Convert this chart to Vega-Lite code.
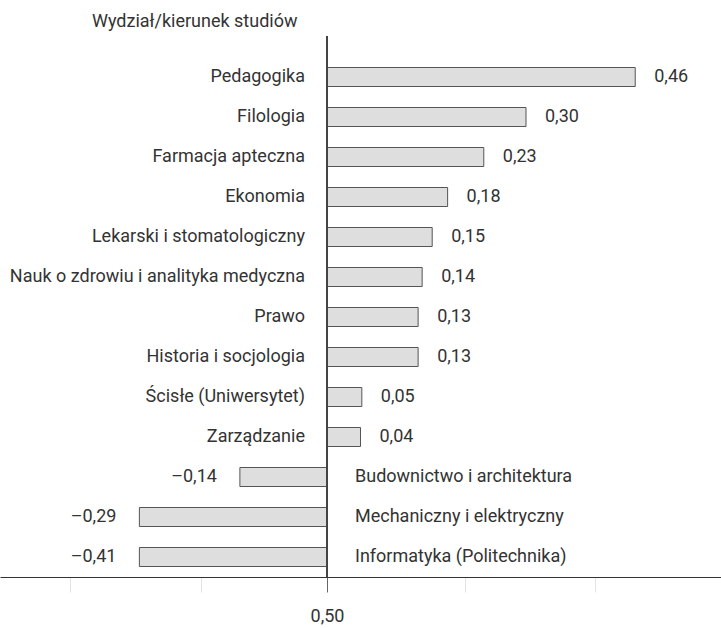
{
  "$schema": "https://vega.github.io/schema/vega-lite/v6.json",
  "width": 721,
  "height": 541,
  "autosize": {"type": "none"},
  "padding": {"left": 0, "right": 0, "top": 36, "bottom": 51},
  "background": "white",
  "config": {
    "view": {"stroke": null},
    "font": "Roboto",
    "text": {"font": "Roboto", "fontSize": 18, "color": "#333"}
  },
  "title": {
    "text": "Wydział/kierunek studiów",
    "anchor": "start",
    "frame": "group",
    "dx": 92,
    "offset": -9,
    "baseline": "alphabetic",
    "font": "Roboto",
    "fontSize": 18,
    "fontWeight": "normal",
    "color": "#333"
  },
  "data": {
    "values": [
      {"kierunek": "Pedagogika", "value": 0.46, "bar": 0.46, "label": "0,46"},
      {"kierunek": "Filologia", "value": 0.30, "bar": 0.297, "label": "0,30"},
      {"kierunek": "Farmacja apteczna", "value": 0.23, "bar": 0.234, "label": "0,23"},
      {"kierunek": "Ekonomia", "value": 0.18, "bar": 0.18, "label": "0,18"},
      {"kierunek": "Lekarski i stomatologiczny", "value": 0.15, "bar": 0.157, "label": "0,15"},
      {"kierunek": "Nauk o zdrowiu i analityka medyczna", "value": 0.14, "bar": 0.142, "label": "0,14"},
      {"kierunek": "Prawo", "value": 0.13, "bar": 0.136, "label": "0,13"},
      {"kierunek": "Historia i socjologia", "value": 0.13, "bar": 0.136, "label": "0,13"},
      {"kierunek": "Ścisłe (Uniwersytet)", "value": 0.05, "bar": 0.052, "label": "0,05"},
      {"kierunek": "Zarządzanie", "value": 0.04, "bar": 0.05, "label": "0,04"},
      {"kierunek": "Budownictwo i architektura", "value": -0.14, "bar": -0.13, "label": "–0,14"},
      {"kierunek": "Mechaniczny i elektryczny", "value": -0.29, "bar": -0.28, "label": "–0,29"},
      {"kierunek": "Informatyka (Politechnika)", "value": -0.41, "bar": -0.28, "label": "–0,41"}
    ]
  },
  "encoding": {
    "y": {
      "field": "kierunek",
      "type": "nominal",
      "sort": null,
      "axis": null,
      "scale": {"range": [21, 541], "paddingInner": 0.525, "paddingOuter": 0.2625}
    }
  },
  "layer": [
    {
      "mark": {"type": "bar", "fill": "#dedede", "stroke": "#555", "strokeWidth": 1},
      "encoding": {
        "x": {
          "field": "bar",
          "type": "quantitative",
          "scale": {"domain": [-0.488, 0.588], "nice": false, "zero": false},
          "axis": {
            "title": null,
            "values": [-0.384, -0.188, 0, 0.206, 0.4],
            "grid": false,
            "domainColor": "#333",
            "domainWidth": 1,
            "tickSize": 15,
            "tickColor": {"condition": {"test": "datum.value === 0", "value": "#666"}, "value": "#e4e4e4"},
            "labelExpr": "datum.value === 0 ? '0,50' : ''",
            "labelFont": "Roboto",
            "labelFontSize": 18,
            "labelColor": "#333",
            "labelPadding": 15
          }
        }
      }
    },
    {
      "mark": {"type": "rule", "color": "#444", "strokeWidth": 1},
      "encoding": {"x": {"datum": 0, "type": "quantitative"}, "y": null}
    },
    {
      "transform": [{"filter": "datum.value >= 0"}],
      "mark": {"type": "text", "align": "right", "dx": -22},
      "encoding": {"x": {"datum": 0, "type": "quantitative"}, "text": {"field": "kierunek"}}
    },
    {
      "transform": [{"filter": "datum.value < 0"}],
      "mark": {"type": "text", "align": "left", "dx": 28},
      "encoding": {"x": {"datum": 0, "type": "quantitative"}, "text": {"field": "kierunek"}}
    },
    {
      "transform": [{"filter": "datum.value >= 0"}],
      "mark": {"type": "text", "align": "left", "dx": 19},
      "encoding": {"x": {"field": "bar", "type": "quantitative"}, "text": {"field": "label"}}
    },
    {
      "transform": [{"filter": "datum.value < 0"}],
      "mark": {"type": "text", "align": "right", "dx": -23},
      "encoding": {"x": {"field": "bar", "type": "quantitative"}, "text": {"field": "label"}}
    }
  ]
}
